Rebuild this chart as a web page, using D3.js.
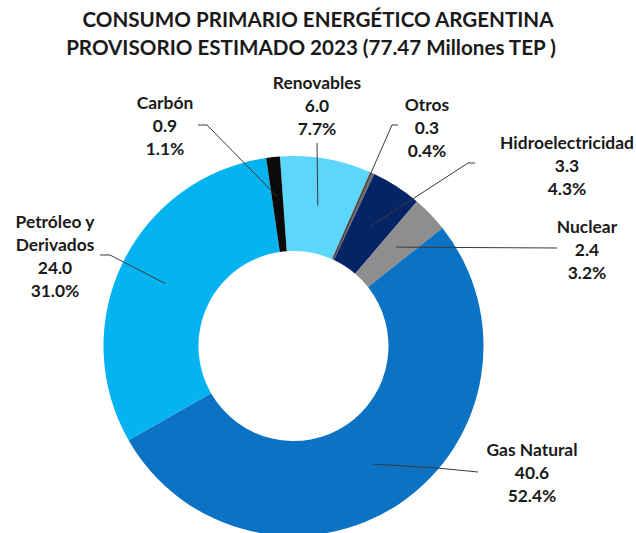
<!DOCTYPE html>
<html>
  <head>
    <meta charset="utf-8">
    <title>Consumo primario energético Argentina</title>
    <style>
      body {
        margin: 0;
        background-color: white;
      }
      svg text {
        font-family: Lato, "Open Sans", sans-serif;
        font-weight: bold;
        fill: #1a1a1a;
      }
      .title {
        font-size: 20.6px;
      }
      .label {
        font-size: 17.4px;
        text-anchor: middle;
      }
      .leader {
        fill: none;
        stroke: #3a3a3a;
        stroke-width: 1;
      }
    </style>
  </head>
  <body>
  <svg id="chart"></svg>
  <script src="https://d3js.org/d3.v7.min.js"></script>
  <script>

    // data
    var categories = ["Renovables", "Otros", "Hidroelectricidad", "Nuclear", "Gas Natural", "Petróleo y Derivados", "Carbón"];
    var values = [6.0, 0.3, 3.3, 2.4, 40.6, 24.0, 0.9];
    var percents = ["7.7%", "0.4%", "4.3%", "3.2%", "52.4%", "31.0%", "1.1%"];
    var colors = ["#5cd6fb", "#6e6e6e", "#042466", "#8e8e8e", "#0b72c4", "#05b3f0", "#0a0a0a"];
    var titleLines = ["CONSUMO PRIMARIO ENERGÉTICO ARGENTINA", "PROVISORIO ESTIMADO 2023 (77.47 Millones TEP )"];

    // label layout: text centre, first line y, elbow of the leader, how deep the leader goes into the ring
    var labelLayout = [
      {x: 317, y: 89,  lines: ["Renovables"], elbow: [317, 143], start: [317, 143], depth: 0.5},
      {x: 427, y: 111, lines: ["Otros"], elbow: [392, 125], start: [398, 125], depth: 0.02},
      {x: 567, y: 149, lines: ["Hidroelectricidad"], elbow: [468, 163], start: [475, 163], depth: 0.5},
      {x: 587, y: 233, lines: ["Nuclear"], elbow: [557, 248], start: [557, 248], depth: 0.5},
      {x: 532, y: 456, lines: ["Gas Natural"], elbow: [437, 468], start: [478, 472], depth: 0.5},
      {x: 55,  y: 228, lines: ["Petróleo y", "Derivados"], elbow: [110, 255], start: [100, 255], depth: 0.5},
      {x: 165, y: 109, lines: ["Carbón"], elbow: [207, 125], start: [198, 125], depth: 0.58}
    ];

    var width = 636, height = 533;
    var cx = 293.5, cy = 346;
    var outerR = 190, innerR = 95;
    var startAngle = -4.1 * Math.PI / 180;
    var lineStep = 23;

    var svg = d3.select("#chart")
      .attr("width", width)
      .attr("height", height);

    // title
    svg.selectAll(".title")
      .data(titleLines)
      .enter().append("text")
      .attr("class", "title")
      .attr("x", function(d, i) { return i == 0 ? 318 : 311; })
      .attr("y", function(d, i) { return 27 + i * 28; })
      .attr("text-anchor", "middle")
      .text(function(d) { return d; });

    var pie = d3.pie()
      .sort(null)
      .startAngle(startAngle)
      .endAngle(startAngle + 2 * Math.PI)
      .value(function(d) { return d; });

    var arc = d3.arc()
      .innerRadius(innerR)
      .outerRadius(outerR);

    var arcs = pie(values);

    var g = svg.append("g")
      .attr("transform", "translate(" + cx + "," + cy + ")");

    g.selectAll("path")
      .data(arcs)
      .enter().append("path")
      .attr("d", arc)
      .attr("fill", function(d, i) { return colors[i]; });

    // leader lines
    arcs.forEach(function(a, i) {
      var lay = labelLayout[i];
      var mid = (a.startAngle + a.endAngle) / 2;
      var r = innerR + (outerR - innerR) * lay.depth;
      var px = cx + r * Math.sin(mid);
      var py = cy - r * Math.cos(mid);
      svg.append("path")
        .attr("class", "leader")
        .attr("d", d3.line()([lay.start, lay.elbow, [px, py]]));
    });

    // labels
    arcs.forEach(function(a, i) {
      var lay = labelLayout[i];
      var lines = lay.lines.concat([d3.format(".1f")(values[i]), percents[i]]);
      var t = svg.append("text")
        .attr("class", "label")
        .attr("x", lay.x)
        .attr("y", lay.y);
      lines.forEach(function(s, k) {
        t.append("tspan")
          .attr("x", lay.x)
          .attr("dy", k == 0 ? 0 : lineStep)
          .text(s);
      });
    });

  </script>
  </body>
</html>
